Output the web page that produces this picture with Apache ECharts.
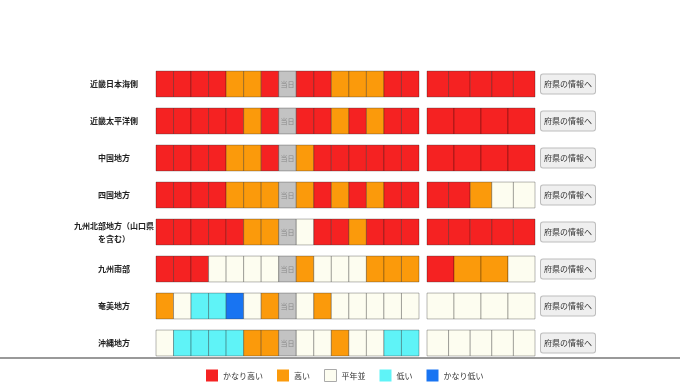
<!DOCTYPE html>
<html><head><meta charset="utf-8">
<script src="https://cdn.jsdelivr.net/npm/echarts@6/dist/echarts.min.js"></script>
<style>html,body{margin:0;padding:0;background:#fff}#c{width:680px;height:382px}</style>
</head><body><div id="c"></div>
<script>
// Regions (rows)
const regions = ['近畿日本海側','近畿太平洋側','中国地方','四国地方','九州北部地方（山口県\nを含む）','九州南部','奄美地方','沖縄地方'];
// Levels: 2=かなり高い 1=高い 0=平年並 -1=低い -2=かなり低い, null=当日
const dailyLevels = [
  [2,2,2,2,1,1,2,null,2,2,1,1,1,2,2],
  [2,2,2,2,2,1,2,null,2,2,1,2,1,2,2],
  [2,2,2,2,1,1,2,null,1,2,2,2,2,2,2],
  [2,2,2,2,1,1,1,null,1,2,1,2,1,2,2],
  [2,2,2,2,2,1,1,null,0,2,2,1,2,2,2],
  [2,2,2,0,0,0,0,null,1,0,0,0,1,1,1],
  [1,0,-1,-1,-2,0,1,null,0,1,0,0,0,0,0],
  [0,-1,-1,-1,-1,1,1,null,0,0,1,0,0,-1,-1]
];
const weeklyLevels = [
  [2,2,2,2,2],
  [2,2,2,2],
  [2,2,2,2],
  [2,2,1,0,0],
  [2,2,2,2,2],
  [2,1,1,0],
  [0,0,0,0],
  [0,0,0,0,0]
];
const levelNames = ['かなり高い','高い','平年並','低い','かなり低い'];
const levelValues = [2,1,0,-1,-2];
const levelColors = ['#f52222','#fb9a0b','#fdfdf0','#5ff3f7','#1874f2'];
const todayLabel = '当日';
const buttonLabel = '府県の情報へ';

const FONT = '"Noto Sans CJK JP","Noto Sans",sans-serif';
function colorOf(l){ return l === null ? '#c3c3c3' : levelColors[levelValues.indexOf(l)]; }

const dailyCells = [];
dailyLevels.forEach((row, r) => row.forEach((l, c) => dailyCells.push({value:[c, r], level:l})));
const weeklyCells = [];
weeklyLevels.forEach((row, r) => row.forEach((l, i) => weeklyCells.push({value:[i/row.length, r, (i+1)/row.length], level:l})));

function cellShape(api, x0, x1, row, level){
  const p0 = api.coord([x0, row]);
  const p1 = api.coord([x1, row]);
  const h = api.size([0, 1])[1] * 0.7;
  const rect = {type:'rect', shape:{x:p0[0], y:p0[1]-h/2, width:p1[0]-p0[0], height:h},
    style:{fill:colorOf(level), stroke:'rgba(0,0,0,0.28)', lineWidth:1}};
  if (level === null) {
    return {type:'group', children:[rect, {type:'text', style:{text:todayLabel, x:(p0[0]+p1[0])/2, y:p0[1], align:'center', verticalAlign:'middle', fill:'#8a8a8a', fontSize:7, fontFamily:FONT}}]};
  }
  return rect;
}

const chart = echarts.init(document.getElementById('c'));
const legendSeries = levelNames.map((n, i) => ({
  name:n, type:'custom', xAxisIndex:0, yAxisIndex:0, data:[], renderItem:()=>null,
  itemStyle:{color:levelColors[i]}
}));
chart.setOption({
  animation:false,
  grid:[
    {left:156, width:263, top:65.5, height:296},
    {left:427, width:108, top:65.5, height:296}
  ],
  xAxis:[
    {gridIndex:0, type:'value', min:0, max:15, show:false},
    {gridIndex:1, type:'value', min:0, max:1, show:false}
  ],
  yAxis:[
    {gridIndex:0, type:'category', data:regions, inverse:true,
     axisLine:{show:false}, axisTick:{show:false}, splitLine:{show:false},
     axisLabel:{align:'center', margin:42, fontSize:8, fontWeight:'bold', color:'#222', fontFamily:FONT, lineHeight:13}},
    {gridIndex:1, type:'category', data:regions, inverse:true, position:'right',
     axisLine:{show:false}, axisTick:{show:false}, splitLine:{show:false},
     axisLabel:{align:'left', margin:6, fontSize:8, color:'#333', fontFamily:FONT,
       formatter:()=>buttonLabel, backgroundColor:'#efefef', borderColor:'#bdbdbd', borderWidth:1,
       borderRadius:2, padding:[6,3,5,3]}}
  ],
  legend:{left:201, top:364, itemWidth:12, itemHeight:12, itemGap:14, icon:'rect',
    textStyle:{fontSize:8, color:'#333', fontFamily:FONT},
    data:levelNames.map((n,i)=>({name:n, itemStyle: i===2 ? {borderColor:'#aaa', borderWidth:1} : {}}))
  },
  graphic:[{type:'line', shape:{x1:0, y1:358, x2:680, y2:358}, style:{stroke:'#999', lineWidth:2}}],
  series:[
    {type:'custom', xAxisIndex:0, yAxisIndex:0, data:dailyCells.map(c=>c.value), silent:true,
     renderItem:(p, api)=>{ const c = dailyCells[p.dataIndex]; return cellShape(api, c.value[0], c.value[0]+1, c.value[1], c.level); }},
    {type:'custom', xAxisIndex:1, yAxisIndex:1, data:weeklyCells.map(c=>c.value), silent:true,
     renderItem:(p, api)=>{ const c = weeklyCells[p.dataIndex]; return cellShape(api, c.value[0], c.value[2], c.value[1], c.level); }}
  ].concat(legendSeries)
});
</script></body></html>
